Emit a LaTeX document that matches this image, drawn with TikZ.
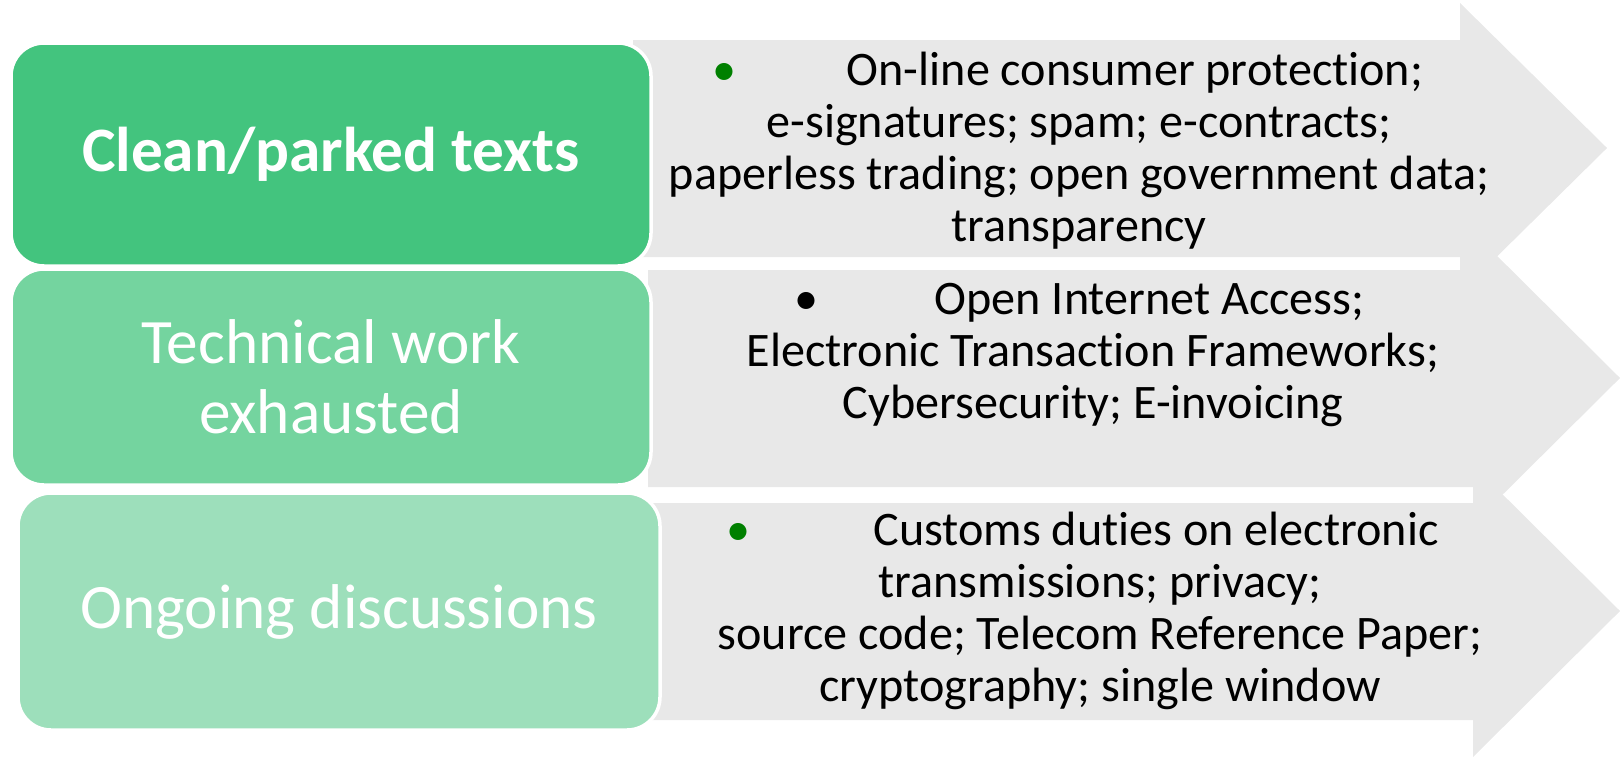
\documentclass[tikz,border=0pt]{standalone}
\usepackage{fontspec}
\setmainfont{Carlito}[Ligatures=NoCommon]
\definecolor{parkgreen}{HTML}{43C47E}
\definecolor{workgreen}{HTML}{74D49F}
\definecolor{talkgreen}{HTML}{9DDFBB}
\definecolor{bandgrey}{HTML}{E8E8E8}
\definecolor{dotgreen}{HTML}{008000}

\begin{document}
\begin{tikzpicture}[
	stage/.style={rounded corners=0.33cm, draw=white, line width=1pt, text=white, align=center,
		minimum width=6.4cm, font=\fontsize{18}{19.8}\selectfont},
	items/.style={align=center, font=\fontsize{13.7}{14.8}\selectfont}
	]
	\useasboundingbox (0,0) rectangle (16.2,7.58);
	% grey bands, top one first
	\fill[bandgrey] (6.33,7.18) -- (14.60,7.18) -- (14.60,7.55) -- (16.07,6.10) -- (14.60,4.65) -- (14.60,5.01) -- (6.33,5.01) -- cycle;
	\fill[bandgrey] (6.48,4.88) -- (14.73,4.88) -- (14.73,5.26) -- (16.20,3.80) -- (14.73,2.34) -- (14.73,2.71) -- (6.48,2.71) -- cycle;
	\fill[bandgrey] (6.48,2.55) -- (14.73,2.55) -- (14.73,2.93) -- (16.20,1.47) -- (14.73,0.01) -- (14.73,0.38) -- (6.48,0.38) -- cycle;
	% stages on the left
	\node[stage, fill=parkgreen, minimum height=2.23cm] (clean) at (3.31,6.035) {\bfseries Clean/parked texts};
	\node[stage, fill=workgreen, minimum height=2.16cm] (technical) at (3.31,3.81) {Technical work\\exhausted};
	\node[stage, fill=talkgreen, minimum width=6.42cm, minimum height=2.37cm] (ongoing) at (3.39,1.465) {Ongoing discussions};
	% what sits in each stage (first line pulled a bit to the left)
	\node[items] (cleanitems) at (10.79,6.075) {\textcolor{dotgreen}{\textbullet}\hspace{1.10cm}On-line consumer protection;\hspace*{0.22cm}\\
		e-signatures; spam; e-contracts;\\paperless trading; open government data;\\transparency};
	\node[items] (technicalitems) at (10.93,4.03) {\textbullet\hspace{1.16cm}Open Internet Access;\hspace*{0.27cm}\\
		Electronic Transaction Frameworks;\\Cybersecurity; E-invoicing};
	\node[items] (ongoingitems) at (11.00,1.47) {\textcolor{dotgreen}{\textbullet}\hspace{1.23cm}Customs duties on electronic\hspace*{0.35cm}\\
		transmissions; privacy;\\source code; Telecom Reference Paper;\\cryptography; single window};
\end{tikzpicture}
\end{document}
